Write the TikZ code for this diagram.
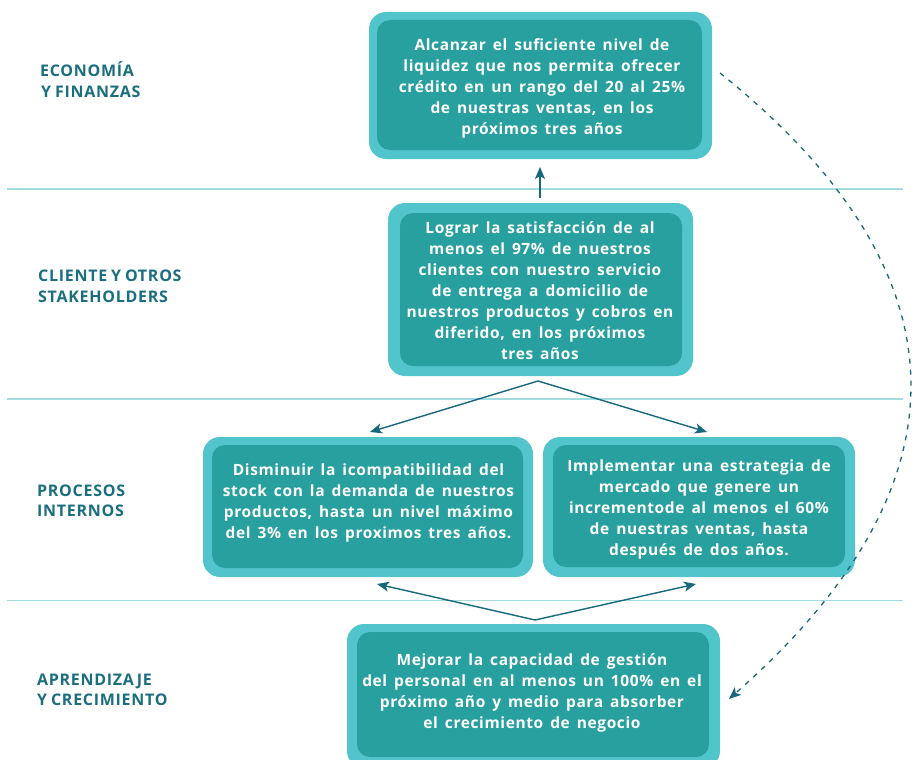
\documentclass[tikz,border=0pt]{standalone}
\usepackage{fontspec}
\setmainfont{Open Sans}
\newfontfamily\cardfont[LetterSpace=4,WordSpace=1.5]{Open Sans}
\newfontfamily\bandfont[LetterSpace=4.5,WordSpace=0.8]{Open Sans}
\usetikzlibrary{arrows.meta}
\definecolor{rim}{HTML}{52C4CB}
\definecolor{core}{HTML}{28A0A0}
\definecolor{ink}{HTML}{16687C}
\definecolor{rulecol}{HTML}{A3DCE0}
\definecolor{lab}{HTML}{1A6E80}
\begin{document}
\begin{tikzpicture}[x=1pt,y=-1pt,
  shell/.style={fill=rim, rounded corners=17pt, inner sep=0pt},
  card/.style={fill=core, rounded corners=13pt, inner sep=0pt},
  msg/.style={text=white, align=center, inner sep=0pt,
    font=\cardfont\bfseries\fontsize{15.5}{21}\selectfont},
  band/.style={anchor=base west, text=lab, inner sep=0pt,
    font=\bandfont\bfseries\fontsize{16}{20}\selectfont},
  link/.style={draw=ink, line width=1.4pt, -{Stealth[length=12pt,width=10pt,inset=3pt]}},
  loop/.style={draw=ink, line width=1.3pt, dash pattern=on 5pt off 6pt,
    -{Stealth[length=12pt,width=10pt,inset=3pt]}},
  divider/.style={draw=rulecol, line width=1.6pt}]
\useasboundingbox (0,0) rectangle (924,760);
\clip (0,0) rectangle (924,760);

% perspective dividers
\draw[divider] (7,189) -- (903,189);
\draw[divider] (7,399) -- (903,399);
\draw[divider] (7,600.5) -- (903,600.5);

% perspective names
\node[band] (p1a) at (40,76.5) {ECONOMÍA};
\node[band] (p1b) at (41,97) {Y FINANZAS};
\node[band] (p2a) at (38,281) {CLIENTE Y OTROS};
\node[band] (p2b) at (38,302) {STAKEHOLDERS};
\node[band] (p3a) at (37,496) {PROCESOS};
\node[band] (p3b) at (37,516) {INTERNOS};
\node[band] (p4a) at (37,685) {APRENDIZAJE};
\node[band] (p4b) at (37,705) {Y CRECIMIENTO};

% objectives: outer frame, inner card, text
\node[shell, minimum width=343pt, minimum height=147pt] (s1) at (540.5,85.5) {};
\node[card, minimum width=325pt, minimum height=130pt] (c1) at (539.5,85) {};
\node[msg] (t1) at (542,88) {Alcanzar el suficiente nivel de\\liquidez que nos permita ofrecer\\crédito en un rango del 20 al 25\%\\de nuestras ventas, en los\\próximos tres años};

\node[shell, minimum width=305pt, minimum height=173pt] (s2) at (540.5,289.5) {};
\node[card, minimum width=282pt, minimum height=153pt] (c2) at (541,289.5) {};
\node[msg] (t2) at (540,291) {Lograr la satisfacción de al\\menos el 97\% de nuestros\\clientes con nuestro servicio\\de entrega a domicilio de\\nuestros productos y cobros en\\diferido, en los próximos\\tres años};

\node[shell, minimum width=330pt, minimum height=140pt] (s3) at (368,507) {};
\node[card, minimum width=311pt, minimum height=123pt] (c3) at (367.5,506.5) {};
\node[msg] (t3) at (368.5,503) {Disminuir la icompatibilidad del\\stock con la demanda de nuestros\\productos, hasta un nivel máximo\\del 3\% en los proximos tres años.};

\node[shell, minimum width=312pt, minimum height=140pt] (s4) at (699,507) {};
\node[card, minimum width=292pt, minimum height=122pt] (c4) at (699,506) {};
\node[msg] (t4) at (699,509.5) {Implementar una estrategia de\\mercado que genere un\\incrementode al menos el 60\%\\de nuestras ventas, hasta\\después de dos años.};

\node[shell, minimum width=373pt, minimum height=144pt] (s5) at (533.5,696) {};
\node[card, minimum width=352pt, minimum height=125pt] (c5) at (533,694.5) {};
\node[msg] (t5) at (532,692.5) {Mejorar la capacidad de gestión\\del personal en al menos un 100\% en el\\próximo año y medio para absorber\\el crecimiento de negocio};

% connector end points
\coordinate (u0) at (540,198);
\coordinate (u1) at (540,167);
\coordinate (f0) at (538,381);
\coordinate (fl) at (370,432);
\coordinate (fr) at (707,432);
\coordinate (g0) at (535,620);
\coordinate (gl) at (377,584);
\coordinate (gr) at (696,584);
\coordinate (d0) at (720,73);
\coordinate (d1) at (729,699);

% cause-effect links
\draw[link] (u0) -- (u1);
\draw[link] (f0) -- (fl);
\draw[link] (f0) -- (fr);
\draw[link] (g0) -- (gl);
\draw[link] (g0) -- (gr);
\draw[loop] (d0) .. controls (972,275) and (972,485) .. (d1);
\end{tikzpicture}
\end{document}
